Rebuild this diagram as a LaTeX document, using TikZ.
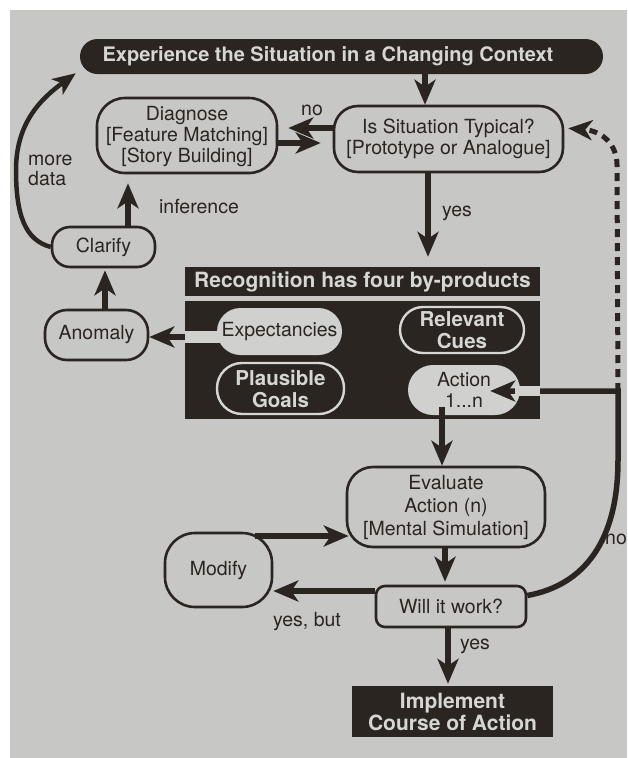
\documentclass[tikz,border=0pt]{standalone}
\usepackage{fontspec}
\setmainfont{TeX Gyre Heros}
\usetikzlibrary{arrows.meta}
\definecolor{ink}{RGB}{42,37,33}
\definecolor{paper}{RGB}{199,199,197}
\definecolor{pill}{RGB}{208,208,206}
\definecolor{lite}{RGB}{214,214,212}
\newcommand\myreg{\fontsize{19.5}{21}\selectfont}
\newcommand\mybold{\fontsize{20.5}{22}\selectfont\bfseries}
\begin{document}
\begin{tikzpicture}[x=1pt,y=-1pt,
 box/.style={draw=ink,line width=2.6pt,rounded corners=#1,align=center,inner sep=0pt,font=\myreg,text=ink},
 dpill/.style={fill=ink,draw=lite,line width=2.4pt,rounded corners=#1,align=center,inner sep=0pt,font=\mybold,text=lite},
 lpill/.style={fill=pill,rounded corners=#1,align=center,inner sep=0pt,font=\myreg,text=ink},
 darkbox/.style={fill=ink,align=center,inner sep=0pt,font=\mybold,text=lite},
 arr/.style={draw=ink,line width=6pt,-{Stealth[length=25pt,width=21pt,inset=7pt]}},
 thinarr/.style={draw=ink,line width=4.5pt,-{Stealth[length=23pt,width=19pt,inset=6pt]}},
 dasharr/.style={draw=ink,line width=5pt,dash pattern=on 8pt off 6pt,-{Stealth[length=24pt,width=20pt,inset=7pt]}},
 lbl/.style={font=\myreg,text=ink,inner sep=0pt}
]
\useasboundingbox (0,0) rectangle (627,758);
\clip (0,0) rectangle (627,758);
\fill[paper] (0,0) rectangle (627,758);
\fill[white] (0,0) rectangle (627,10);
\fill[white] (0,0) rectangle (10,758);

% nodes
\node[darkbox, rounded corners=17.5pt, minimum width=523pt, minimum height=35pt, font=\fontsize{20}{22}\selectfont\bfseries] (banner) at (341.5,56.5) {Experience the Situation in a Changing Context\hspace*{27pt}};
\node[box=24pt, minimum width=229pt, minimum height=66pt] (typ) at (448.5,139) {Is Situation Typical?\\{[}Prototype or Analogue{]}};
\node[box=28pt, minimum width=180pt, minimum height=75pt, text depth=2pt] (diag) at (187,135.5) {Diagnose\\{[}Feature Matching{]}\\{[}Story Building{]}};
\node[box=18pt, minimum width=103pt, minimum height=40pt] (clar) at (103.5,247) {Clarify};
\node[box=22pt, minimum width=103pt, minimum height=50pt] (anom) at (96.5,335) {Anomaly};

\node[darkbox, minimum width=355pt, minimum height=29pt, font=\fontsize{21}{23}\selectfont\bfseries] (head) at (362.5,281.5) {Recognition has four by-products};
\node[fill=ink, minimum width=355pt, minimum height=118pt, inner sep=0pt] (body) at (362.5,360) {};
\node[lpill=23.5pt, minimum width=125pt, minimum height=47pt] (exp) at (279.5,331.5) {Expectancies};
\node[dpill=23pt, minimum width=124pt, minimum height=46pt] (cues) at (462,330) {Relevant\\Cues};
\node[dpill=25pt, minimum width=127pt, minimum height=51pt] (goals) at (280.5,388.5) {Plausible\\Goals};
\node[lpill=25pt, minimum width=112pt, minimum height=50pt] (act) at (464,390) {Action\\1...n};

\node[box=26pt, minimum width=198pt, minimum height=80pt, font=\fontsize{19.5}{23}\selectfont] (eval) at (446,507) {Evaluate\\Action (n)\\{[}Mental Simulation{]}};
\node[box=9pt, minimum width=150pt, minimum height=41pt] (will) at (451,606.5) {Will it work?};
\node[box=30pt, minimum width=107pt, minimum height=74pt] (mod) at (218.5,570) {Modify};
\node[darkbox, minimum width=201pt, minimum height=51pt, font=\fontsize{21}{22}\selectfont\bfseries] (impl) at (452.5,711.5) {Implement\\Course of Action};

% connectors
\coordinate (xa) at (425,0);
\draw[arr] (banner.south -| xa) -- (typ.north -| xa);

\coordinate (yno) at (0,128);
\draw[arr, shorten >=10pt] (typ.west |- yno) -- (diag.east |- yno);
\coordinate (yback) at (0,143);
\draw[arr, shorten >=12pt] (diag.east |- yback) -- (typ.west |- yback);
\node[lbl] at (312,110) {no};

\coordinate (xb) at (428,0);
\draw[arr, shorten >=10pt] (typ.south -| xb) -- (head.north -| xb);
\node[lbl] at (457,213) {yes};

\coordinate (xc) at (105,0);
\draw[arr, shorten >=2pt] (anom.north -| xc) -- (clar.south -| xc);
\coordinate (xd) at (128,0);
\draw[arr, shorten >=9pt] (clar.north -| xd) -- (diag.south -| xd);
\node[lbl] at (199,207) {inference};

\coordinate (bt) at ([xshift=-4pt,yshift=1pt]banner.south west);
\draw[thinarr] (clar.west) .. controls (25,240) and (16,215) .. (16,170) .. controls (16,122) and (42,98) .. (bt);
\node[lbl, align=left, anchor=west, font=\fontsize{19.5}{20}\selectfont] at (28,170) {more\\data};

\coordinate (ye) at (0,337);
\draw[arr] (exp.west |- ye) -- (anom.east |- ye);
\fill[pill] (body.west |- 0,331) rectangle ([xshift=5pt]exp.west |- 0,343);

\coordinate (wst) at ([yshift=11pt]will.east);
\coordinate (cr) at (618,391);
\coordinate (atip) at ([xshift=-30pt]act.east);
\draw[arr, line width=5.5pt, line join=miter] (wst) .. controls (585,585) and (618,540) .. (618,460) -- (cr) -- (atip |- cr);
\fill[pill] (515,386) rectangle (body.east |- 0,396);
\draw[dasharr, shorten >=4pt] (cr) -- (617,165) .. controls (617,145) and (603,131) .. (typ.east |- yno);
\node[lbl, anchor=west] at (605,539) {no};

\coordinate (xf) at (442,0);
\coordinate (a1) at ([yshift=8pt]act.south);
\draw[arr] (a1 -| xf) -- (eval.north -| xf);
\coordinate (xg) at (445,0);
\draw[arr, shorten >=3pt] (eval.south -| xg) -- (will.north -| xg);
\coordinate (xh) at (448,0);
\draw[arr, shorten >=2pt] (will.south -| xh) -- (impl.north -| xh);
\node[lbl] at (475,646) {yes};

\coordinate (m1) at (255,536);
\draw[arr, shorten >=-3pt] (m1) -- (eval.west |- m1);
\coordinate (yw) at (0,591);
\draw[arr] (will.west |- yw) -- (mod.east |- yw);
\node[lbl] at (307,622) {yes, but};
\end{tikzpicture}
\end{document}
